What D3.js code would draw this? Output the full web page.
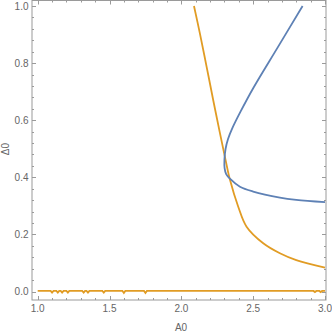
<!DOCTYPE html>
<html>
<head>
<meta charset="utf-8">
<script src="https://cdn.jsdelivr.net/npm/d3@7"></script>
<style>
  body { margin: 0; background: #fff; }
  svg { display: block; }
</style>
</head>
<body>
<svg id="chart" width="332" height="331"></svg>
<script>
// blue branch (upper -> nose -> lower)
const blueA = [2.844, 2.672, 2.50, 2.41, 2.355, 2.325, 2.308, 2.300, 2.301, 2.312, 2.338, 2.408, 2.50, 2.686, 2.80, 3.0];
const blueD = [1.0, 0.856, 0.712, 0.628, 0.572, 0.534, 0.500, 0.462, 0.432, 0.411, 0.395, 0.367, 0.35, 0.329, 0.321, 0.313];

// orange falling curve
const orangeA = [2.088, 2.129, 2.176, 2.222, 2.269, 2.308, 2.338, 2.396, 2.454, 2.57, 2.686, 2.80, 3.0];
const orangeD = [1.0, 0.904, 0.787, 0.67, 0.554, 0.46, 0.392, 0.297, 0.227, 0.169, 0.134, 0.110, 0.084];

// orange flat branch near zero (with small numerical dips)
const flatA = [1.0, 1.09, 1.10, 1.11, 1.13, 1.14, 1.15, 1.16, 1.17, 1.18, 1.20, 1.21, 1.22, 1.31, 1.32, 1.33, 1.34, 1.35, 1.36,
  1.45, 1.46, 1.47, 1.59, 1.60, 1.61, 1.74, 1.75, 1.76, 2.0, 2.5, 2.92, 2.93, 2.94, 2.96, 2.97, 2.98, 3.0];
const flatD = [0.002, 0.002, -0.004, 0.002, 0.002, -0.004, 0.002, 0.002, -0.004, 0.002, 0.002, -0.004, 0.002, 0.002, -0.004, 0.002, 0.002, -0.004, 0.002,
  0.002, -0.004, 0.002, 0.002, -0.005, 0.002, 0.002, -0.005, 0.002, 0.002, 0.002, 0.002, -0.002, 0.002, 0.002, -0.002, 0.002, 0.002];

const xTicks = [1.0, 1.5, 2.0, 2.5, 3.0];
const yTicks = [0.0, 0.2, 0.4, 0.6, 0.8, 1.0];
const xLabel = "A0";
const yLabel = "Δ0";

const svg = d3.select("#chart");
const frame = { left: 32, right: 326, top: 0.5, bottom: 300 };

const x = d3.scaleLinear().domain([1, 3]).range([37.7, 325]);
const y = d3.scaleLinear().domain([0, 1]).range([291.5, 6]);

const frameColor = "#9a9a9a";
const textColor = "#666";
const font = "'Liberation Sans', Arial, sans-serif";

const xMinor = d3.range(10, 31).map(d => d / 10).filter(v => !xTicks.some(t => Math.abs(t - v) < 1e-6));
const yMinor = d3.range(0, 26).map(d => d * 0.04).filter(v => v <= 1.02 && !yTicks.some(t => Math.abs(t - v) < 1e-6));

const g = svg.append("g");

// frame
g.append("rect")
  .attr("x", frame.left).attr("y", frame.top)
  .attr("width", frame.right - frame.left).attr("height", frame.bottom - frame.top)
  .attr("fill", "none").attr("stroke", frameColor).attr("stroke-width", 1);

// ticks, all pointing inward
function vTicks(vals, len) {
  vals.forEach(v => {
    const px = Math.round(x(v)) + 0.5;
    g.append("line").attr("x1", px).attr("x2", px).attr("y1", frame.bottom).attr("y2", frame.bottom - len)
      .attr("stroke", frameColor);
    g.append("line").attr("x1", px).attr("x2", px).attr("y1", frame.top).attr("y2", frame.top + len)
      .attr("stroke", frameColor);
  });
}
function hTicks(vals, len) {
  vals.forEach(v => {
    const py = Math.round(y(v)) + 0.5;
    g.append("line").attr("y1", py).attr("y2", py).attr("x1", frame.left).attr("x2", frame.left + len)
      .attr("stroke", frameColor);
    g.append("line").attr("y1", py).attr("y2", py).attr("x1", frame.right).attr("x2", frame.right - len)
      .attr("stroke", frameColor);
  });
}
vTicks(xTicks, 4);
vTicks(xMinor, 2);
hTicks(yTicks, 4);
hTicks(yMinor, 2);

// tick labels
g.selectAll(".xl").data(xTicks).join("text")
  .attr("x", d => x(d)).attr("y", frame.bottom + 12)
  .attr("text-anchor", "middle").attr("font-size", 10).attr("font-family", font).attr("fill", textColor)
  .text(d => d.toFixed(1));
g.selectAll(".yl").data(yTicks).join("text")
  .attr("x", frame.left - 3.5).attr("y", d => y(d) + 3.5)
  .attr("text-anchor", "end").attr("font-size", 10).attr("font-family", font).attr("fill", textColor)
  .text(d => d.toFixed(1));

// axis labels
g.append("text").attr("x", 181).attr("y", 330.5)
  .attr("text-anchor", "middle").attr("font-size", 10).attr("font-family", font).attr("fill", textColor)
  .text(xLabel);
g.append("text").attr("transform", "translate(8.5,149) rotate(-90)")
  .attr("text-anchor", "middle").attr("font-size", 10).attr("font-family", font).attr("fill", textColor)
  .text(yLabel);

// curves
const line = d3.line().x(d => x(d[0])).y(d => y(d[1])).curve(d3.curveCatmullRom.alpha(0.5));
const lineLin = d3.line().x(d => x(d[0])).y(d => y(d[1]));

const plot = g.append("g");
plot.append("path").datum(d3.zip(flatA, flatD)).attr("d", lineLin)
  .attr("fill", "none").attr("stroke", "#e19c24").attr("stroke-width", 1.8);
plot.append("path").datum(d3.zip(orangeA, orangeD)).attr("d", line)
  .attr("fill", "none").attr("stroke", "#e19c24").attr("stroke-width", 1.8);
plot.append("path").datum(d3.zip(blueA, blueD)).attr("d", line)
  .attr("fill", "none").attr("stroke", "#5e81b5").attr("stroke-width", 1.8);
</script>
</body>
</html>
